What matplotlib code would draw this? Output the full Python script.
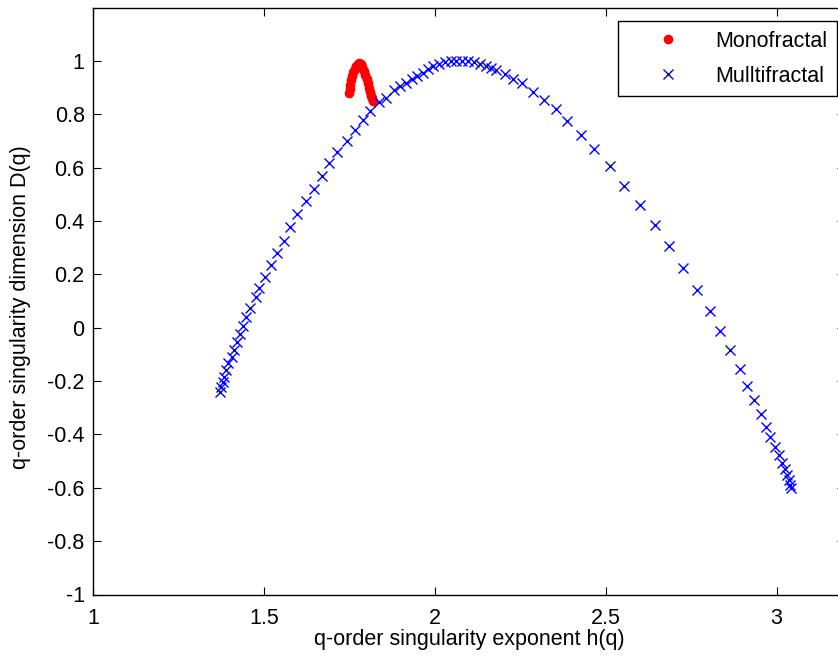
import matplotlib
matplotlib.use("Agg")
import matplotlib.pyplot as plt

plt.rcParams['font.family'] = ['Liberation Sans', 'DejaVu Sans']

# Multifractal singularity spectrum (h(q), D(q))
multi_h = [1.371, 1.374, 1.379, 1.383, 1.389, 1.396, 1.406, 1.413, 1.422, 1.430,
           1.439, 1.449, 1.459, 1.476, 1.486, 1.503, 1.520, 1.537, 1.558, 1.576,
           1.597, 1.622, 1.646, 1.669, 1.691, 1.715, 1.742, 1.766, 1.790, 1.810,
           1.836, 1.857, 1.881, 1.898, 1.915, 1.932, 1.948, 1.964, 1.980, 1.995,
           2.013, 2.029, 2.046, 2.061, 2.079, 2.096, 2.114, 2.132, 2.149, 2.164,
           2.180, 2.205, 2.228, 2.256, 2.287, 2.319, 2.354, 2.388, 2.427, 2.465,
           2.513, 2.554, 2.599, 2.645, 2.685, 2.726, 2.767, 2.804, 2.833, 2.863,
           2.894, 2.914, 2.933, 2.953, 2.968, 2.982, 2.994, 3.006, 3.016, 3.025,
           3.031, 3.036, 3.040, 3.041]
multi_D = [-0.240, -0.221, -0.202, -0.184, -0.159, -0.132, -0.110, -0.084, -0.053, -0.024,
           0.006, 0.039, 0.073, 0.114, 0.150, 0.189, 0.234, 0.281, 0.326, 0.379,
           0.425, 0.475, 0.519, 0.570, 0.616, 0.660, 0.701, 0.741, 0.779, 0.813,
           0.847, 0.862, 0.889, 0.904, 0.916, 0.931, 0.944, 0.956, 0.969, 0.979,
           0.989, 0.995, 1.000, 1.000, 1.000, 0.998, 0.994, 0.989, 0.981, 0.974,
           0.964, 0.951, 0.933, 0.918, 0.885, 0.854, 0.820, 0.776, 0.723, 0.671,
           0.606, 0.532, 0.460, 0.384, 0.306, 0.223, 0.141, 0.064, -0.012, -0.084,
           -0.156, -0.217, -0.271, -0.324, -0.371, -0.410, -0.446, -0.477, -0.506, -0.531,
           -0.552, -0.571, -0.590, -0.601]

# Monofractal spectrum
mono_h = [1.749, 1.751, 1.753, 1.756, 1.759, 1.762, 1.766, 1.770, 1.775, 1.779,
          1.784, 1.788, 1.792, 1.797, 1.801, 1.805, 1.808, 1.811, 1.814, 1.817, 1.819]
mono_D = [0.880, 0.895, 0.910, 0.927, 0.944, 0.958, 0.970, 0.980, 0.990, 0.992,
          0.988, 0.978, 0.963, 0.948, 0.933, 0.916, 0.899, 0.884, 0.869, 0.859, 0.850]

x_ticks = [1, 1.5, 2, 2.5, 3]
y_ticks = [-1, -0.8, -0.6, -0.4, -0.2, 0, 0.2, 0.4, 0.6, 0.8, 1]

FS = 15.5

fig = plt.figure(figsize=(8.38, 6.59), dpi=100)
ax = fig.add_axes([93/838, (659-594.5)/659, 752/838, 587/659])

ax.plot(mono_h, mono_D, linestyle='none', marker='o', markersize=7,
        color='#ff0000', markeredgewidth=0, label='Monofractal')
ax.plot(multi_h, multi_D, linestyle='none', marker='x', markersize=6.5,
        color='#0000ff', markeredgewidth=1.0, label='Mulltifractal')

ax.set_xlim(1, 3.2)
ax.set_ylim(-1, 1.2)
ax.set_xticks(x_ticks)
ax.set_xticklabels([f'{t:g}' for t in x_ticks])
ax.set_yticks(y_ticks)
ax.set_yticklabels([f'{t:g}' for t in y_ticks])
ax.tick_params(direction='in', length=5.5, width=0.8, top=True, right=True,
               labelsize=FS)
ax.tick_params(axis='x', pad=10)
ax.tick_params(axis='y', pad=6)
for s in ax.spines.values():
    s.set_linewidth(1.0)

ax.set_xlabel('q-order singularity exponent h(q)', fontsize=FS)
ax.set_ylabel('q-order singularity dimension D(q)', fontsize=FS)
ax.xaxis.set_label_coords(0.5, (594.5 - 629) / 587)
ax.yaxis.set_label_coords((31 - 93) / 752, 0.49)

leg = ax.legend(loc='upper right', bbox_to_anchor=(0.9894, 0.977), borderaxespad=0,
                fontsize=FS, fancybox=False, edgecolor='black', framealpha=1,
                handlelength=3.75, handletextpad=0.3, borderpad=0.45, labelspacing=0.65)
leg.get_frame().set_linewidth(1.0)

fig.savefig('out.png', dpi=100)
